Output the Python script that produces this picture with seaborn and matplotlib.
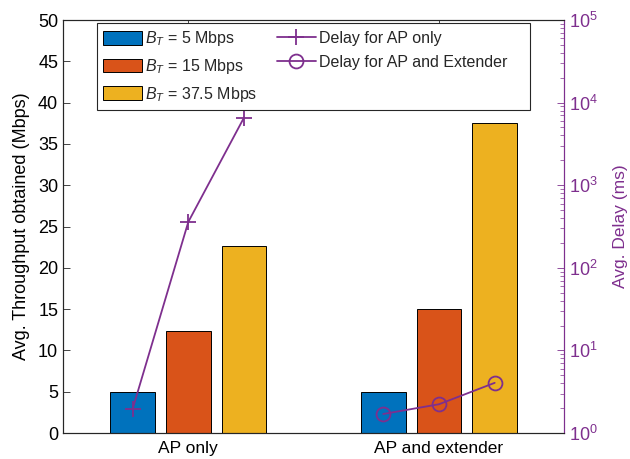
import numpy as np
import pandas as pd
import matplotlib
matplotlib.use("Agg")
import matplotlib.pyplot as plt
from matplotlib.patches import Rectangle
import seaborn as sns

# Scenarios, transmit rates and measured values
scenarios = ["AP only", "AP and extender"]
rates = ["5", "15", "37.5"]
throughput_ap_only = [5.0, 12.3, 22.6]
throughput_ap_ext = [5.0, 15.0, 37.5]
delay_ap_only = [1.95, 360.0, 6600.0]
delay_ap_ext = [1.70, 2.23, 4.05]

bar_colors = ["#0072BD", "#D95319", "#EDB120"]
purple = "#7E2F8E"
frame = "#262626"

sns.set_theme(style="white")
plt.rcParams["font.family"] = ["Liberation Sans", "DejaVu Sans"]
plt.rcParams["mathtext.fontset"] = "custom"
plt.rcParams["mathtext.rm"] = "Liberation Sans"
plt.rcParams["mathtext.it"] = "Liberation Sans:italic"
plt.rcParams["mathtext.bf"] = "Liberation Sans:bold"

rate_labels = [f"$B_T$ = {r} Mbps" for r in rates]
df = pd.DataFrame({
    "scenario": np.repeat(scenarios, len(rates)),
    "rate": rate_labels * len(scenarios),
    "throughput": throughput_ap_only + throughput_ap_ext,
})

fig = plt.figure(figsize=(6.3, 4.59), dpi=100)
ax = fig.add_axes([0.1, 0.0566, 0.7957, 0.8998])

sns.barplot(data=df, x="scenario", y="throughput", hue="rate",
            order=scenarios, hue_order=rate_labels, palette=bar_colors,
            width=0.667, gap=0.2, edgecolor="black", linewidth=0.7,
            saturation=1, legend=False, ax=ax, zorder=2)

ax.set_xlim(-0.5, 1.5)
ax.set_ylim(0, 50)
ax.set_yticks(np.arange(0, 51, 5))
ax.set_xlabel("")
ax.set_ylabel("Avg. Throughput obtained (Mbps)", fontsize=13, color="black",
              labelpad=6)
ax.tick_params(axis="both", direction="in", length=5, width=0.6,
               labelsize=13, colors=frame, labelcolor="black",
               top=True, bottom=True, right=False)
ax.tick_params(axis="x", pad=6, labelsize=12.5)
for s in ax.spines.values():
    s.set_color(frame)
    s.set_linewidth(0.8)

# Bar centres for each scenario, taken from the drawn patches
centers = {sc: [] for sc in scenarios}
for cont in ax.containers:
    xs = sorted(p.get_x() + p.get_width() / 2 for p in cont.patches)
    for sc, xv in zip(scenarios, xs):
        centers[sc].append(xv)

ax2 = ax.twinx()
sns.lineplot(x=centers[scenarios[0]], y=delay_ap_only, ax=ax2, color=purple,
             marker="+", markersize=12, mec=purple, mew=1.3, linewidth=1.3,
             label="Delay for AP only")
sns.lineplot(x=centers[scenarios[1]], y=delay_ap_ext, ax=ax2, color=purple,
             marker="o", markersize=10, mec=purple, mfc="none", mew=1.3,
             linewidth=1.3, label="Delay for AP and Extender")
ax2.set_yscale("log")
ax2.set_ylim(1, 1e5)
ax2.set_xlim(-0.5, 1.5)
ax2.set_ylabel("Avg. Delay (ms)", fontsize=12.5, color=purple, labelpad=11)
ax2.tick_params(axis="y", which="major", direction="in", length=5, width=0.6,
                labelsize=13, colors=purple)
ax2.tick_params(axis="y", which="minor", direction="in", length=3, width=0.5,
                colors=purple)
for name, s in ax2.spines.items():
    s.set_linewidth(0.8)
    s.set_color(purple if name == "right" else frame)
ax.spines["right"].set_color(purple)

bar_handles = list(ax.containers)
line_handles, line_labels = ax2.get_legend_handles_labels()
ax2.get_legend().remove()
leg = ax2.legend(bar_handles + line_handles, rate_labels + line_labels,
                 ncol=2, loc="upper left", bbox_to_anchor=(0.068, 0.993),
                 fontsize=11.5, frameon=False,
                 handlelength=2.4, handleheight=0.95,
                 handletextpad=0.2, columnspacing=1.25, labelspacing=0.55,
                 borderpad=0.4, borderaxespad=0)
leg.set_zorder(6)

# Legend box with extra room on the right, drawn behind the entries
fig.canvas.draw()
bb = leg.get_window_extent().transformed(ax2.transAxes.inverted())
extra = 16 / ax2.get_window_extent().width
box = Rectangle((bb.x0, bb.y0), bb.width + extra, bb.height,
                transform=ax2.transAxes, facecolor="white", edgecolor=frame,
                linewidth=0.8, zorder=5, clip_on=False)
ax2.add_patch(box)

fig.savefig("out.png", dpi=100)
